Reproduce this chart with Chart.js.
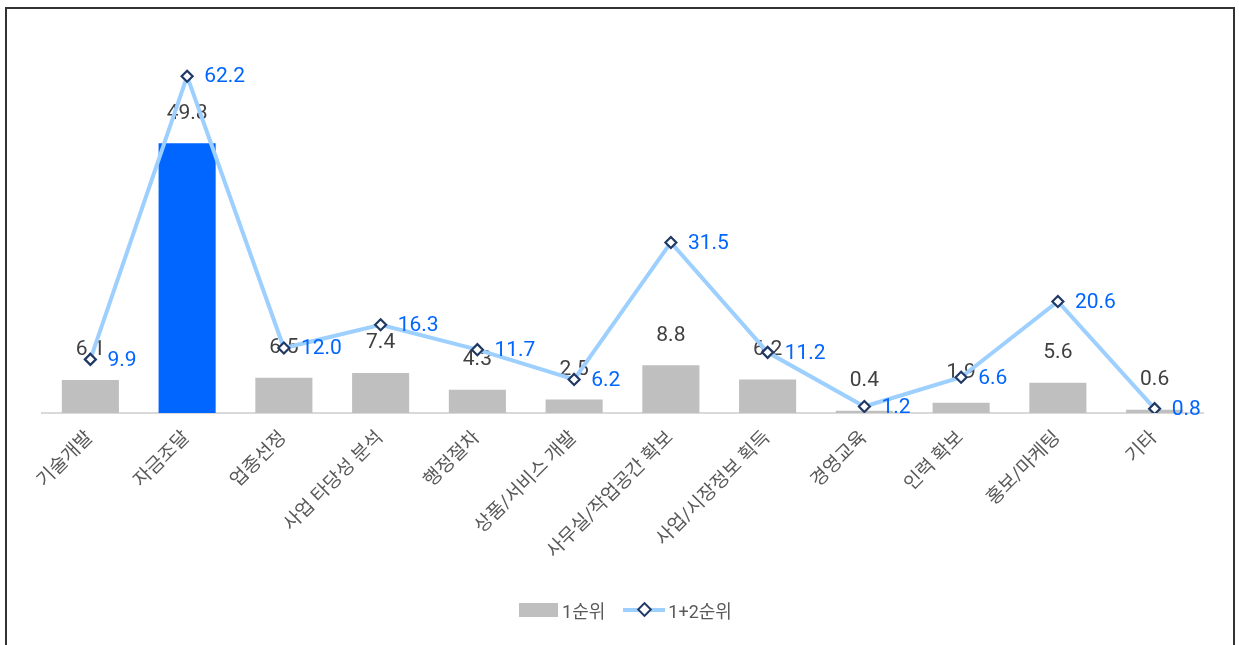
<!DOCTYPE html>
<html>
<head>
<meta charset="utf-8">
<script src="https://cdn.jsdelivr.net/npm/chart.js@4"></script>
<style>
    body { margin: 0; background: #fff; }
    #frame { position: absolute; left: 5px; top: 7px; width: 1230px; height: 660px; border: 2px solid #333; box-sizing: border-box; }
    #wrap { position: absolute; left: 0; top: 0; width: 1239px; height: 645px; }
    #legend { position: absolute; left: 6px; width: 1239px; top: 597px; display: flex; justify-content: center; align-items: center;
              font-family: Roboto, "Noto Sans CJK KR", sans-serif; font-size: 18px; color: #595959; }
    .box { width: 39px; height: 14px; background: #BFBFBF; margin-right: 4px; }
    .ln { position: relative; width: 42px; height: 4px; background: #9DCFFF; margin: 0 3px 0 18px; }
    .ln i { position: absolute; left: 16px; top: -4px; width: 7px; height: 7px; background: #fff; border: 2px solid #1F3864; transform: rotate(45deg); }
</style>
</head>
<body>
<div id="frame"></div>
<div id="wrap"><canvas id="chart" width="1239" height="645"></canvas></div>
<div id="legend"><span class="box"></span>1순위<span class="ln"><i></i></span>1+2순위</div>
<script>
// Data
const categories = ["기술개발", "자금조달", "업종선정", "사업 타당성 분석", "행정절차", "상품/서비스 개발",
                    "사무실/작업공간 확보", "사업/시장정보 획득", "경영교육", "인력 확보", "홍보/마케팅", "기타"];
const firstRank = [6.1, 49.8, 6.5, 7.4, 4.3, 2.5, 8.8, 6.2, 0.4, 1.9, 5.6, 0.6];
const firstSecondRank = [9.9, 62.2, 12.0, 16.3, 11.7, 6.2, 31.5, 11.2, 1.2, 6.6, 20.6, 0.8];

const FONT = 'Roboto, "Noto Sans CJK KR", sans-serif';

// value labels: bars before the line is drawn, line labels on top
const valueLabels = {
    id: 'valueLabels',
    afterDatasetDraw(chart, args) {
        if (args.index !== 0) return;
        const ctx = chart.ctx;
        ctx.save();
        ctx.font = '21px ' + FONT;
        ctx.fillStyle = '#404040';
        ctx.textAlign = 'center';
        ctx.textBaseline = 'middle';
        args.meta.data.forEach((bar, i) => {
            ctx.fillText(firstRank[i].toFixed(1), bar.x, bar.y - 30);
        });
        ctx.restore();
    },
    afterDatasetsDraw(chart) {
        const ctx = chart.ctx;
        const meta = chart.getDatasetMeta(1);
        ctx.save();
        ctx.font = '21px ' + FONT;
        ctx.fillStyle = '#0066FF';
        ctx.textAlign = 'left';
        ctx.textBaseline = 'middle';
        meta.data.forEach((pt, i) => {
            ctx.fillText(firstSecondRank[i].toFixed(1), pt.x + 17, pt.y + 1);
        });
        ctx.restore();
    }
};

new Chart(document.getElementById('chart'), {
    data: {
        labels: categories,
        datasets: [
            {
                type: 'bar',
                label: '1순위',
                data: firstRank,
                backgroundColor: firstRank.map((v, i) => i === 1 ? '#0066FF' : '#BFBFBF'),
                barPercentage: 0.59,
                categoryPercentage: 1,
                order: 2
            },
            {
                type: 'line',
                label: '1+2순위',
                data: firstSecondRank,
                borderColor: '#9DCFFF',
                borderWidth: 4,
                pointStyle: 'rectRot',
                pointRadius: 5.5,
                pointBorderWidth: 2.2,
                pointBorderColor: '#1F3864',
                pointBackgroundColor: '#fff',
                tension: 0,
                order: 1
            }
        ]
    },
    options: {
        responsive: false,
        animation: false,
        layout: { padding: { left: 42, right: 36, top: 34, bottom: 0 } },
        plugins: { legend: { display: false }, tooltip: { enabled: false } },
        scales: {
            y: { display: false, min: 0, max: 70 },
            x: {
                grid: { display: false },
                border: { color: '#D9D9D9', width: 2 },
                ticks: {
                    color: '#595959',
                    font: { family: FONT, size: 19 },
                    minRotation: 45,
                    maxRotation: 45,
                    padding: 6
                },
                afterFit(scale) {
                    scale.height = 232;
                    scale.paddingLeft = 0;
                    scale.paddingRight = 0;
                }
            }
        }
    },
    plugins: [valueLabels]
});
</script>
</body>
</html>
